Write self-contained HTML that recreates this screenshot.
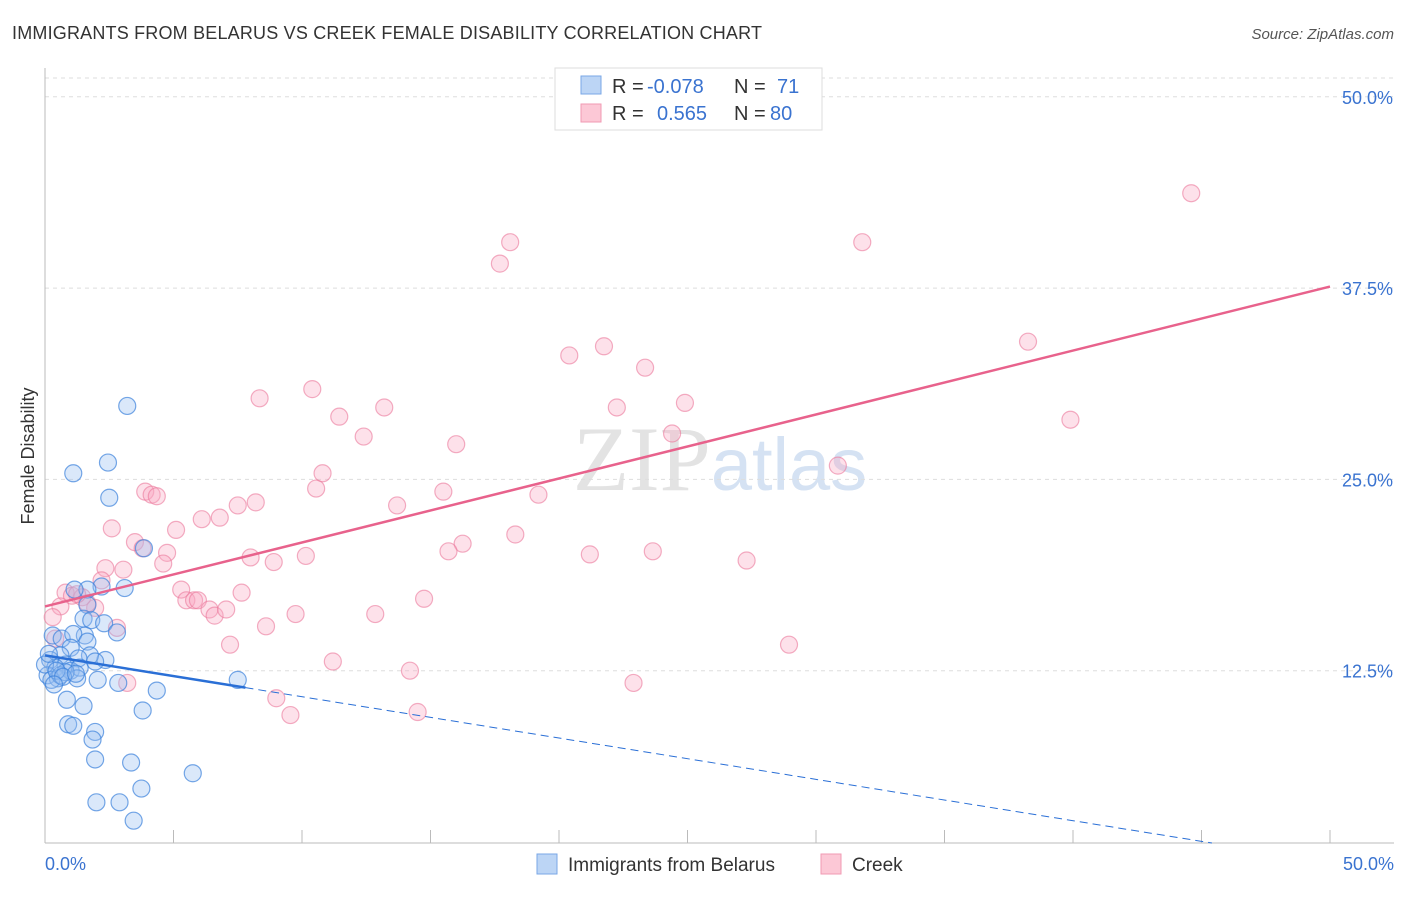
<!DOCTYPE html>
<html><head><meta charset="utf-8"><style>
body{margin:0;background:#fff;font-family:"Liberation Sans",sans-serif}
</style></head><body>
<svg id="chart" width="1406" height="892" xmlns="http://www.w3.org/2000/svg" font-family="Liberation Sans, sans-serif">
<text x="12" y="39" font-size="18" fill="#333" textLength="750">IMMIGRANTS FROM BELARUS VS CREEK FEMALE DISABILITY CORRELATION CHART</text>
<text x="1394" y="39" font-size="15" fill="#555" text-anchor="end" font-style="italic">Source: ZipAtlas.com</text>
<text x="720" y="490" font-size="92" text-anchor="middle" fill="#e3e3e3" font-family="Liberation Serif, serif">ZIP<tspan fill="#d5e2f3" font-family="Liberation Sans, sans-serif" font-size="74">atlas</tspan></text>
<text transform="translate(34,456) rotate(-90)" font-size="18" fill="#333" text-anchor="middle">Female Disability</text>
<g id="grid"></g><g id="marks"></g>
<g font-size="20">
<rect x="555" y="68" width="267" height="62" fill="#fff" stroke="#ddd"/>
<rect x="581" y="76" width="20" height="18" fill="#bcd5f5" stroke="#7aa7e6"/>
<rect x="581" y="104" width="20" height="18" fill="#fcc8d6" stroke="#f09ab3"/>
<text x="612" y="93" fill="#333">R =</text>
<text x="647" y="93" fill="#3a73d0">-0.078</text>
<text x="734" y="93" fill="#333">N =</text>
<text x="777" y="93" fill="#3a73d0">71</text>
<text x="612" y="120" fill="#333">R =</text>
<text x="657" y="120" fill="#3a73d0">0.565</text>
<text x="734" y="120" fill="#333">N =</text>
<text x="770" y="120" fill="#3a73d0">80</text>
</g>
<g>
<rect x="537" y="854" width="20" height="20" fill="#bcd5f5" stroke="#7aa7e6"/>
<text x="568" y="871" font-size="19" fill="#333">Immigrants from Belarus</text>
<rect x="821" y="854" width="20" height="20" fill="#fcc8d6" stroke="#f09ab3"/>
<text x="852" y="871" font-size="19" fill="#333">Creek</text>
</g>
</svg>
<script>
const yTicks=[12.5,25,37.5,50];
const yTickLabels=["12.5%","25.0%","37.5%","50.0%"];
const xTickLabels=["0.0%","50.0%"];
const blueX=[3.2,1.1,2.45,2.5,3.85,3.1,2.2,1.65,1.15,1.65,1.5,1.8,2.3,2.8,0.3,0.65,1.55,1.1,1.65,1.0,2.35,1.75,1.3,0.6,0.2,0.8,0.4,0.1,0.5,1.0,1.35,1.95,2.05,1.25,0.8,2.85,4.35,7.5,0.85,1.5,3.8,0.9,1.1,1.95,1.85,1.95,3.35,5.75,3.75,2.0,2.9,3.45,0.0,0.25,0.6,0.15,0.45,0.7,1.2,0.35];
const blueY=[29.8,25.4,26.1,23.8,20.5,17.9,18.0,17.8,17.8,16.8,15.9,15.8,15.6,15.0,14.8,14.6,14.8,14.9,14.4,14.0,13.2,13.5,13.3,13.5,13.2,12.9,12.7,12.2,12.0,12.5,12.7,13.1,11.9,12.0,12.4,11.7,11.2,11.9,10.6,10.2,9.9,9.0,8.9,8.5,8.0,6.7,6.5,5.8,4.8,3.9,3.9,2.7,12.9,11.9,12.2,13.6,12.5,12.1,12.3,11.6];
const pinkX=[44.6,18.1,17.7,31.8,38.25,21.75,20.4,23.35,10.4,8.35,13.2,11.45,22.25,24.9,39.9,12.4,16.0,24.4,30.85,10.8,10.55,3.9,4.15,4.35,15.5,19.2,8.2,7.5,13.7,6.8,6.1,5.1,2.6,18.3,3.5,3.8,4.75,16.25,15.7,21.2,23.65,27.3,8.0,8.9,10.15,4.6,2.35,3.05,2.2,5.3,7.65,5.5,5.8,5.95,0.8,1.05,1.45,0.6,1.95,1.65,14.75,6.4,6.6,7.05,9.75,12.85,0.3,2.8,8.6,7.2,28.95,11.2,14.2,3.2,22.9,9.0,9.55,14.5,1.25,0.4];
const pinkY=[43.7,40.5,39.1,40.5,34.0,33.7,33.1,32.3,30.9,30.3,29.7,29.1,29.7,30.0,28.9,27.8,27.3,28.0,25.9,25.4,24.4,24.2,24.0,23.9,24.2,24.0,23.5,23.3,23.3,22.5,22.4,21.7,21.8,21.4,20.9,20.5,20.2,20.8,20.3,20.1,20.3,19.7,19.9,19.6,20.0,19.5,19.2,19.1,18.4,17.8,17.6,17.1,17.1,17.1,17.6,17.4,17.3,16.7,16.6,16.9,17.2,16.5,16.1,16.5,16.2,16.2,16.0,15.3,15.4,14.2,14.2,13.1,12.5,11.7,11.7,10.7,9.6,9.8,17.5,14.6];
const pinkTrend=[16.7,37.6];
const blueTrend=[13.5,-0.27];
const sx=v=>45+v/50*1285, sy=v=>862-v/12.5*191.3;
const NS="http://www.w3.org/2000/svg";
function mk(t,a,p){const e=document.createElementNS(NS,t);for(const k in a)e.setAttribute(k,a[k]);p.appendChild(e);return e;}
const g=document.getElementById('grid'), m=document.getElementById('marks');
let l=mk('line',{x1:45,x2:1394,y1:78,y2:78,stroke:'#ddd','stroke-dasharray':'4,4'},g);


yTicks.forEach((v,i)=>{
 const gl=mk('line',{x1:45,x2:1394,y1:sy(v),y2:sy(v),stroke:'#ddd','stroke-dasharray':'4,4'},g);
 
 
 const t=mk('text',{x:1393,y:sy(v)+7,'font-size':18,fill:'#3a73d0','text-anchor':'end'},g);t.textContent=yTickLabels[i];
 
 
});
const ax=mk('line',{x1:45,x2:45,y1:68,y2:843,stroke:'#bbb'},g);


const bx=mk('line',{x1:45,x2:1394,y1:843,y2:843,stroke:'#bbb'},g);


for(let i=1;i<=10;i++){const tk=mk('line',{x1:sx(i*5),x2:sx(i*5),y1:830,y2:843,stroke:'#bbb'},g);
 
 }
[[0,45,'start'],[1,1394,'end']].forEach(([i,x,a])=>{const t=mk('text',{x:x,y:870,'font-size':18,fill:'#3a73d0','text-anchor':a},g);t.textContent=xTickLabels[i];
 
 });
pinkX.forEach((x,i)=>{const c=mk('circle',{cx:sx(x),cy:sy(pinkY[i]),r:8.5,fill:'rgba(248,170,195,0.35)',stroke:'rgba(235,120,155,0.6)','stroke-width':1.2},m);
 
 });
blueX.forEach((x,i)=>{const c=mk('circle',{cx:sx(x),cy:sy(blueY[i]),r:8.5,fill:'rgba(150,190,240,0.35)',stroke:'rgba(60,130,220,0.7)','stroke-width':1.2},m);
 
 });
const pt=mk('line',{x1:sx(0),y1:sy(pinkTrend[0]),x2:sx(50),y2:sy(pinkTrend[1]),stroke:'#e8628c','stroke-width':2.5},m);


const bt=mk('line',{x1:sx(0),y1:sy(blueTrend[0]),x2:sx(7.8),y2:sy(blueTrend[0]+blueTrend[1]*7.8),stroke:'#2a6fd6','stroke-width':2.5},m);


const xe=(blueTrend[0]-1.24)/(-blueTrend[1]);
const bd=mk('line',{x1:sx(7.8),y1:sy(blueTrend[0]+blueTrend[1]*7.8),x2:sx(xe),y2:sy(blueTrend[0]+blueTrend[1]*xe),stroke:'#2a6fd6','stroke-width':1,'stroke-dasharray':'8,5'},m);


</script>
</body></html>
